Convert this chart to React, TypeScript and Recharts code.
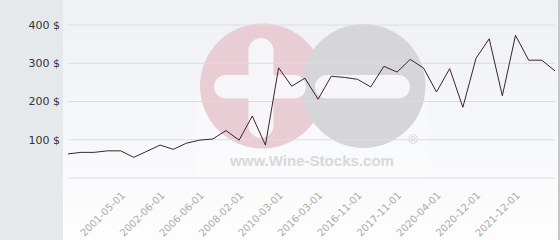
import { LineChart, Line, XAxis, YAxis, CartesianGrid } from 'recharts';

// sale dates (only some are printed on the axis)
const dates = [
  '2000-01-01', '2000-05-01', '2000-09-01', '2001-01-01', '2001-05-01', '2001-10-01',
  '2002-02-01', '2002-06-01', '2003-06-01', '2005-01-01', '2006-06-01', '2007-01-01',
  '2007-09-01', '2008-02-01', '2008-10-01', '2009-06-01', '2010-03-01', '2011-06-01',
  '2013-09-01', '2016-03-01', '2016-06-01', '2016-09-01', '2016-11-01', '2017-02-01',
  '2017-06-01', '2017-11-01', '2018-09-01', '2019-07-01', '2020-04-01', '2020-07-01',
  '2020-10-01', '2020-12-01', '2021-03-01', '2021-08-01', '2021-12-01', '2022-04-01',
  '2022-09-01', '2023-02-01',
];

const prices = [
  63, 67, 67, 71, 71, 54, 70, 86, 75, 91, 99, 102,
  124, 99, 162, 86, 288, 240, 261, 206, 266, 263,
  258, 238, 292, 277, 310, 288, 225, 286, 185, 313,
  364, 215, 373, 308, 308, 280,
];

const axisDates = [
  '2001-05-01', '2002-06-01', '2006-06-01', '2008-02-01', '2010-03-01', '2016-03-01',
  '2016-11-01', '2017-11-01', '2020-04-01', '2020-12-01', '2021-12-01',
];

const priceTicks = [0, 100, 200, 300, 400];

const data = dates.map((date, i) => ({ date, price: prices[i] }));

function Backdrop() {
  return (
    <svg width={560} height={240} style={{ position: 'absolute', left: 0, top: 0 }}>
      <defs>
        <linearGradient id="plotBg" x1="0" y1="0" x2="0" y2="1">
          <stop offset="0%" stopColor="#eef0f4" />
          <stop offset="100%" stopColor="#fdfdfd" />
        </linearGradient>
      </defs>
      <rect x={0} y={0} width={63} height={240} fill="#e6e9ec" />
      <rect x={63} y={0} width={497} height={240} fill="url(#plotBg)" />
      <rect x={558} y={0} width={2} height={240} fill="#c4c6c9" />
      {/* wine-stocks watermark */}
      <rect x={196} y={95} width={232} height={82} fill="#ffffff" opacity={0.3} />
      <circle cx={262.5} cy={86} r={62.5} fill="#e8cdd5" />
      <circle cx={363.5} cy={86} r={62} fill="#d6d6d9" />
      <rect x={248.5} y={38} width={25} height={100} rx={12.5} fill="#f6f6f8" />
      <rect x={214} y={75} width={92} height={23.5} rx={11.75} fill="#f6f6f8" />
      <rect x={315} y={75} width={95} height={23.5} rx={11.75} fill="#f6f6f8" />
      <text x={413} y={144} fontSize={13} fill="#d2d2d5" textAnchor="middle" fontFamily="Liberation Sans">
        ®
      </text>
      <text
        x={230}
        y={166}
        fontSize={15}
        fontWeight="bold"
        fill="#d8d8db"
        fontFamily="Liberation Sans"
        textLength={164}
        lengthAdjust="spacingAndGlyphs"
      >
        www.Wine-Stocks.com
      </text>
    </svg>
  );
}

export default function App() {
  return (
    <div style={{ position: 'absolute', left: 0, top: 0, width: 560, height: 240 }}>
      <Backdrop />
      <div style={{ position: 'absolute', left: 0, top: 0 }}>
        <LineChart width={560} height={240} data={data} margin={{ top: 25, right: 5, bottom: 0, left: 0 }}>
          <CartesianGrid vertical={false} stroke="#dcdcdf" />
          <XAxis
            dataKey="date"
            ticks={axisDates}
            interval={0}
            height={62}
            axisLine={false}
            tickLine={false}
            tickSize={0}
            tickMargin={13}
            angle={-45}
            textAnchor="end"
            tick={{ fill: '#ababab', fontSize: 10, fontFamily: 'DejaVu Sans' }}
          />
          <YAxis
            domain={[0, 400]}
            ticks={priceTicks}
            width={68}
            axisLine={false}
            tickLine={false}
            tickSize={0}
            tickMargin={8}
            tickFormatter={(v) => (v === 0 ? '' : `${v} $`)}
            tick={{ fill: '#333333', fontSize: 11, fontFamily: 'DejaVu Sans' }}
          />
          <Line
            type="linear"
            dataKey="price"
            stroke="#3b2230"
            strokeWidth={1}
            dot={false}
            isAnimationActive={false}
          />
        </LineChart>
      </div>
    </div>
  );
}
